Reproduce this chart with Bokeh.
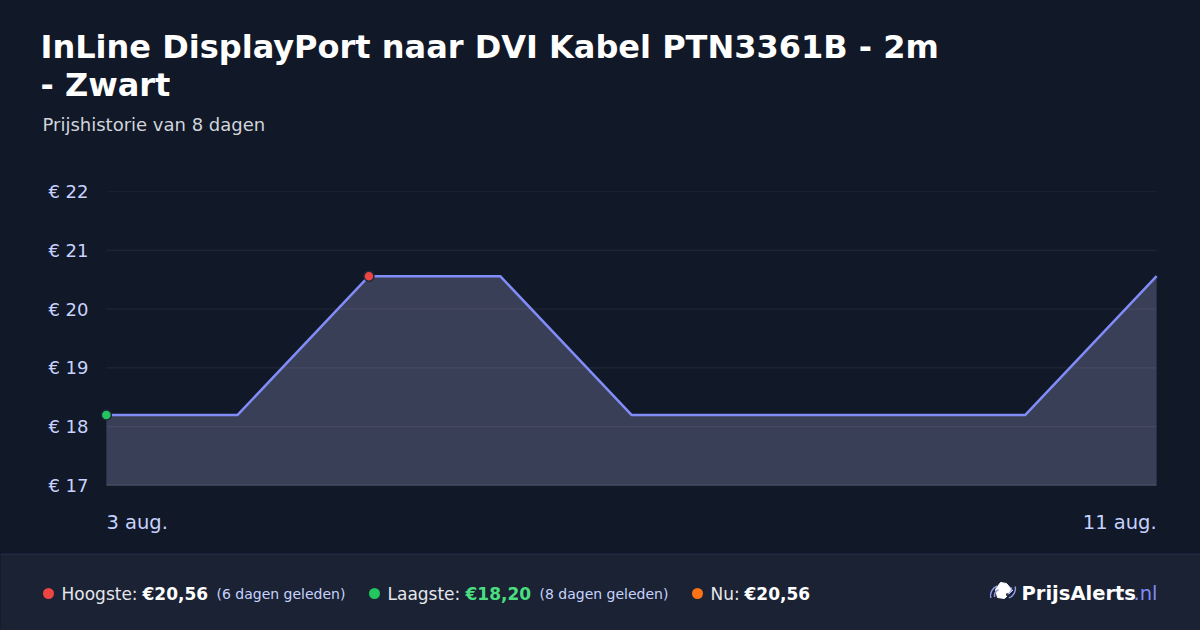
from bokeh.plotting import figure
from bokeh.models import (Range1d, FixedTicker, ColumnDataSource, Span,
                          GlobalInlineStyleSheet)
from bokeh.layouts import column
from bokeh.embed import file_html
from bokeh.resources import INLINE
from bokeh.core.properties import value

# ---------------- data ----------------
title_line1 = "InLine DisplayPort naar DVI Kabel PTN3361B - 2m"
title_line2 = "- Zwart"
subtitle = "Prijshistorie van 8 dagen"
dates = ["3 aug.", "4 aug.", "5 aug.", "6 aug.", "7 aug.", "8 aug.", "9 aug.", "10 aug.", "11 aug."]
prices = [18.20, 18.20, 20.56, 20.56, 18.20, 18.20, 18.20, 18.20, 20.56]
y_ticks = [17, 18, 19, 20, 21, 22]
y_tick_labels = ["€ 17", "€ 18", "€ 19", "€ 20", "€ 21", "€ 22"]
x_tick_labels = ["3 aug.", "11 aug."]
high_label, high_value, high_ago = "Hoogste:", "€20,56", "(6 dagen geleden)"
low_label, low_value, low_ago = "Laagste:", "€18,20", "(8 dagen geleden)"
now_label, now_value = "Nu:", "€20,56"
brand, brand_tld = "PrijsAlerts", ".nl"

FONT = "DejaVu Sans"
BG = "#111827"
FOOT = "#1a2233"
W = 1200
PAD = 0.06  # small x padding so edge markers are not clipped

def blank(height, bg):
    f = figure(width=W, height=height, x_range=Range1d(0, W), y_range=Range1d(height, 0),
               x_axis_type=None, y_axis_type=None, toolbar_location=None,
               output_backend="svg", min_border=0)
    f.background_fill_color = bg
    f.border_fill_color = bg
    f.outline_line_color = None
    f.grid.visible = False
    return f

# ---------------- header ----------------
header = blank(160, BG)
header.text(x=[40], y=[46], text=[title_line1], text_font=value(FONT),
            text_font_size="32px", text_font_style="bold", text_color="#ffffff",
            text_baseline="middle")
header.text(x=[40], y=[84], text=[title_line2], text_font=value(FONT),
            text_font_size="32px", text_font_style="bold", text_color="#ffffff",
            text_baseline="middle")
header.text(x=[42], y=[124], text=[subtitle], text_font=value(FONT),
            text_font_size="18px", text_color="#d1d5db", text_baseline="middle")

# ---------------- chart ----------------
xs = list(range(len(prices)))
n = len(prices) - 1
src = ColumnDataSource(dict(x=xs, y=prices, base=[y_ticks[0]] * len(prices)))
xr = Range1d(-PAD, n + PAD)

p = figure(width=W, height=345, x_range=xr,
           y_range=Range1d(y_ticks[0], y_ticks[-1]), toolbar_location=None,
           output_backend="svg", x_axis_location=None,
           min_border_left=98, min_border_right=36,
           min_border_top=31, min_border_bottom=20)
p.background_fill_color = BG
p.border_fill_color = BG
p.outline_line_color = None

p.yaxis.ticker = FixedTicker(ticks=y_ticks)
p.yaxis.major_label_overrides = {t: l for t, l in zip(y_ticks, y_tick_labels)}
p.yaxis.major_label_text_font = FONT
p.yaxis.major_label_text_font_size = "18px"
p.yaxis.major_label_text_color = "#c7d2fe"
p.yaxis.axis_line_color = None
p.yaxis.major_tick_line_color = None
p.yaxis.minor_tick_line_color = None
p.yaxis.major_tick_out = 0
p.yaxis.major_tick_in = 0
p.yaxis.major_label_standoff = 10
p.grid.visible = False

# horizontal grid lines spanning the data extent
p.segment(x0=[0] * len(y_ticks), x1=[n] * len(y_ticks), y0=y_ticks, y1=y_ticks,
          line_color="#ffffff", line_alpha=0.08, line_width=1)
p.segment(x0=[0], x1=[n], y0=[y_ticks[0]], y1=[y_ticks[0]],
          line_color="#4b5264", line_width=1.5)

p.varea(x="x", y1="base", y2="y", source=src, fill_color="#9d9aca", fill_alpha=0.3)
p.line(x="x", y="y", source=src, line_color="#818cf8", line_width=2.5)

lo_i = prices.index(min(prices))
hi_i = prices.index(max(prices))
p.scatter(x=[xs[lo_i]], y=[prices[lo_i]], size=10, fill_color="#22c55e",
          line_color="#1f2937", line_width=1.5)
p.scatter(x=[xs[hi_i]], y=[prices[hi_i]], size=10, fill_color="#ef4444",
          line_color="#1f2937", line_width=1.5)

# ---------------- x labels (same x scale as chart) ----------------
xl = figure(width=W, height=48, x_range=xr, y_range=Range1d(48, 0),
            x_axis_type=None, y_axis_type=None, toolbar_location=None,
            output_backend="svg", min_border_left=98, min_border_right=36,
            min_border_top=0, min_border_bottom=0)
xl.background_fill_color = BG
xl.border_fill_color = BG
xl.outline_line_color = None
xl.grid.visible = False
xl.text(x=[0], y=[17], text=[x_tick_labels[0]], text_align="left",
        text_baseline="middle", text_font=value(FONT), text_font_size="19.5px",
        text_color="#c7d2fe")
xl.text(x=[n], y=[17], text=[x_tick_labels[1]], text_align="right",
        text_baseline="middle", text_font=value(FONT), text_font_size="19.5px",
        text_color="#c7d2fe")

# ---------------- footer ----------------
f = blank(77, FOOT)
f.add_layout(Span(location=0.5, dimension="width", line_color="#2a3358", line_width=1))

cy = 40
def t(x, s, size="17px", color="#e5e7eb", style="normal"):
    f.text(x=[x], y=[cy], text=[s], text_font=value(FONT), text_font_size=size,
           text_color=color, text_font_style=style, text_baseline="middle")

f.scatter(x=[48, 374, 697], y=[cy, cy, cy], size=11,
          fill_color=["#ef4444", "#22c55e", "#f97316"], line_color=None)
t(61, high_label)
t(142, high_value, color="#ffffff", style="bold")
t(216, high_ago, size="14px", color="#c7d2fe")
t(387, low_label)
t(465, low_value, color="#4ade80", style="bold")
t(539, low_ago, size="14px", color="#c7d2fe")
t(710, now_label)
t(744, now_value, color="#ffffff", style="bold")

# logo icon (tag with signal arcs)
f.patch(x=[995, 1000, 1006, 1012, 1004, 997], y=[36, 29, 30, 37, 45, 44],
        fill_color="#ffffff", line_color="#ffffff", line_width=1)
f.scatter(x=[1007], y=[41], size=3, fill_color=FOOT, line_color=None)
f.arc(x=[1005, 1005], y=[35, 35], radius=[6, 10], start_angle=-1.22, end_angle=0.2,
      line_color="#8f9be0", line_width=1.5)
f.arc(x=[1000, 1000], y=[42, 42], radius=[6, 10], start_angle=1.9, end_angle=3.4,
      line_color="#8f9be0", line_width=1.5)
f.text(x=[1021], y=[cy], text=[brand], text_font=value(FONT), text_font_size="19.5px",
       text_font_style="bold", text_color="#ffffff", text_baseline="middle")
f.text(x=[1133], y=[cy], text=[brand_tld], text_font=value(FONT), text_font_size="19.5px",
       text_color="#818cf8", text_baseline="middle")

layout = column(column(header), p, xl, column(f), spacing=0)
layout.stylesheets = [GlobalInlineStyleSheet(css="html,body{background:#111827;}")]

open("out.html", "w").write(file_html(layout, INLINE))
